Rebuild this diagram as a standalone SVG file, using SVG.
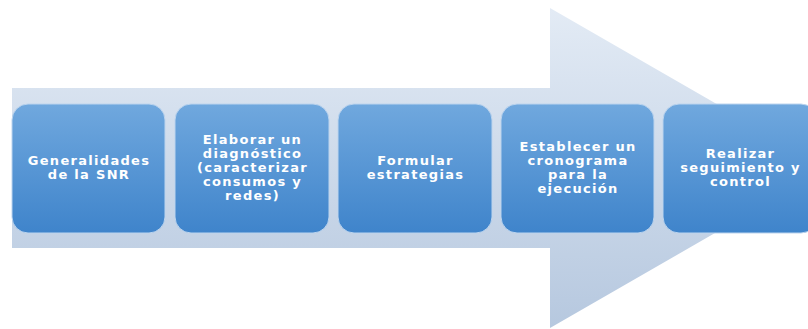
<svg xmlns="http://www.w3.org/2000/svg" width="808" height="329" viewBox="0 0 808 329">
<defs>
<linearGradient id="arrowGrad" x1="0" y1="8" x2="0" y2="328" gradientUnits="userSpaceOnUse">
<stop offset="0" stop-color="#e3ebf5"/>
<stop offset="1" stop-color="#b6c8df"/>
</linearGradient>
<linearGradient id="boxGrad" x1="0" y1="0" x2="0" y2="1">
<stop offset="0" stop-color="#70a8de"/>
<stop offset="1" stop-color="#3f84cb"/>
</linearGradient>
<style>
.box{fill:url(#boxGrad);stroke:#bcd4ee;stroke-width:1}
.lbl{font-family:"DejaVu Sans","Open Sans",sans-serif;font-weight:bold;font-size:13px;fill:#ffffff;text-anchor:middle;letter-spacing:1.3px}
</style>
</defs>
<rect width="808" height="329" fill="#ffffff"/>
<g id="arrow">
<polygon points="12,88 550,88 550,8 828,168 550,328 550,248 12,248" fill="url(#arrowGrad)"/>
</g>
<g id="connectors"></g>
<g id="n1">
<rect class="box" x="12" y="104" width="153" height="129" rx="16"/>
<text class="lbl" x="89" y="165">Generalidades</text>
<text class="lbl" x="89" y="179">de la SNR</text>
</g>
<g id="n2">
<rect class="box" x="175" y="104" width="154" height="129" rx="16"/>
<text class="lbl" x="252.5" y="144">Elaborar un</text>
<text class="lbl" x="252.5" y="158">diagnóstico</text>
<text class="lbl" x="252.5" y="172">(caracterizar</text>
<text class="lbl" x="252.5" y="186">consumos y</text>
<text class="lbl" x="252.5" y="200">redes)</text>
</g>
<g id="n3">
<rect class="box" x="338" y="104" width="154" height="129" rx="16"/>
<text class="lbl" x="415.5" y="165">Formular</text>
<text class="lbl" x="415.5" y="179">estrategias</text>
</g>
<g id="n4">
<rect class="box" x="501" y="104" width="153" height="129" rx="16"/>
<text class="lbl" x="578" y="151">Establecer un</text>
<text class="lbl" x="578" y="165">cronograma</text>
<text class="lbl" x="578" y="179">para la</text>
<text class="lbl" x="578" y="193">ejecución</text>
</g>
<g id="n5">
<rect class="box" x="663" y="104" width="154" height="129" rx="16"/>
<text class="lbl" x="740.5" y="158">Realizar</text>
<text class="lbl" x="740.5" y="172">seguimiento y</text>
<text class="lbl" x="740.5" y="186">control</text>
</g>
</svg>
